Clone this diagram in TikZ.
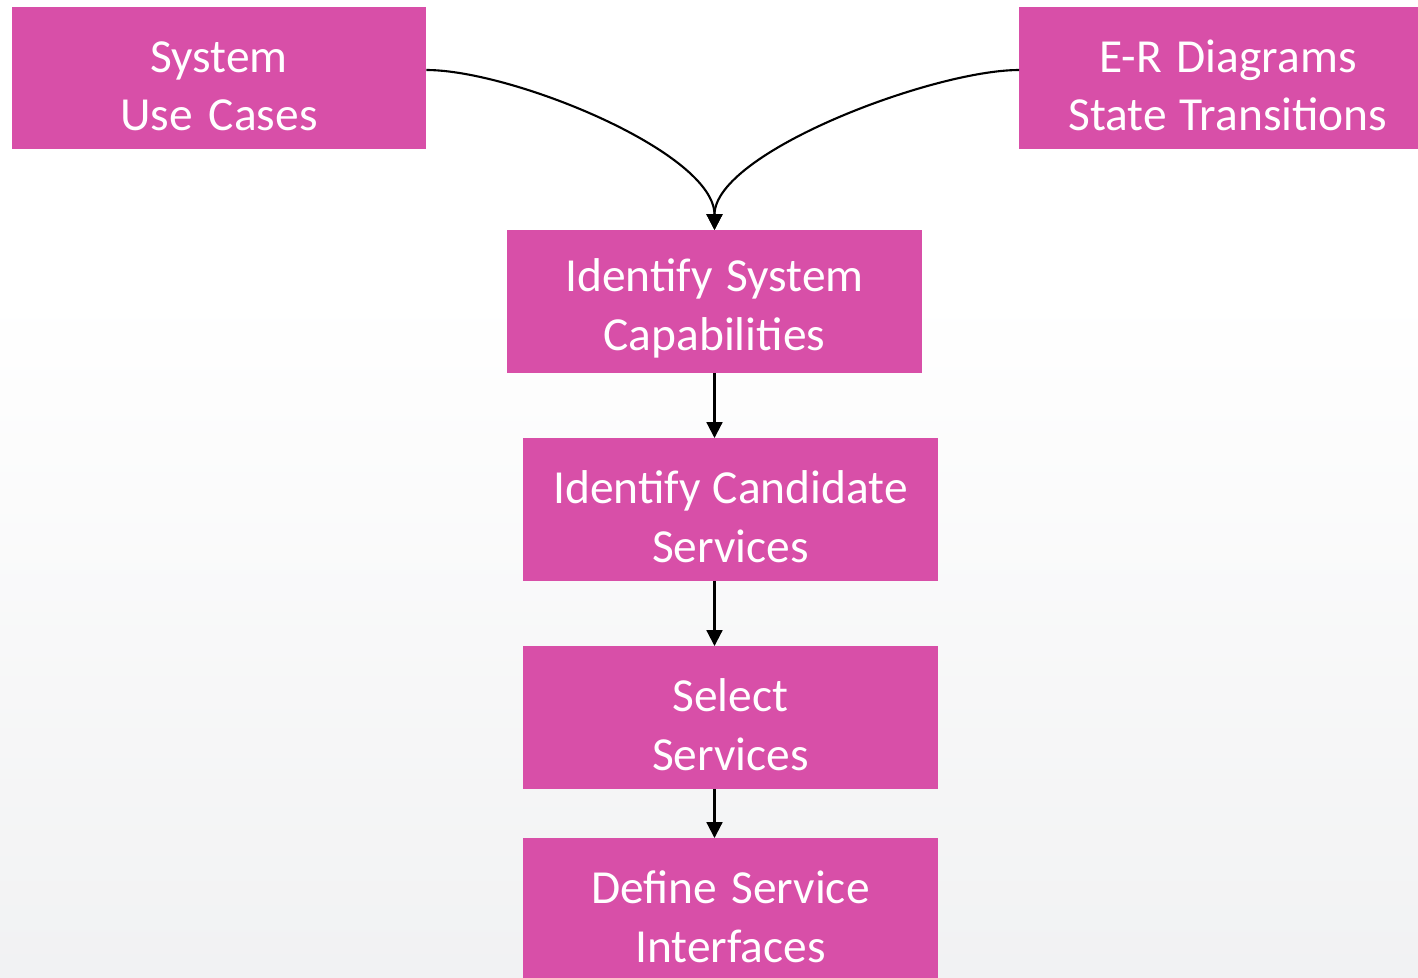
\documentclass[tikz,border=0pt]{standalone}
\usepackage{fontspec}
\setmainfont{Carlito}
\usetikzlibrary{arrows.meta}
\definecolor{stepmagenta}{RGB}{216,79,168}
\definecolor{bgtop}{RGB}{236,236,236}
\definecolor{bgbottom}{RGB}{231,232,234}
\pgfdeclareverticalshading{bgfade}{100bp}{color(0bp)=(bgbottom); color(60bp)=(white); color(80bp)=(white); color(100bp)=(bgtop)}
\begin{document}
\begin{tikzpicture}[x=0.02cm,y=-0.02cm,
		stepbox/.style={fill=stepmagenta, text=white, inner sep=0pt, outer sep=0pt,
			minimum width=8.3cm, minimum height=2.86cm, text width=8cm, align=center,
			font=\fontsize{27}{33.5}\selectfont,
			execute at begin node={\noindent\rule{0pt}{27pt}\spaceskip=0.23em plus 0.1em\relax}},
		flow/.style={line width=1.2pt, -{Triangle[width=9pt,length=9pt]}},
		merge/.style={flow, out distance=1.72cm, in distance=1.55cm}]
		\useasboundingbox (0,0) rectangle (1418,978);
		\clip (0,0) rectangle (1418,978);
		\shade[shading=bgfade] (0,0) rectangle (1418,978);
		\node[stepbox] (sysuse) at (219,78) {System\\Use Cases};
		\node[stepbox, minimum width=8.36cm] (erstate) at (1228,78) {E-R Diagrams\\State Transitions};
		\node[stepbox] (capab) at (714.5,301.5) {Identify System\\Capabilities};
		\node[stepbox] (candid) at (730.5,509.5) {Identify Candidate\\Services};
		\node[stepbox] (select) at (730.5,717.5) {Select\\Services};
		\node[stepbox] (define) at (730.5,909.5) {Define Service\\Interfaces};
		\draw[merge] ([yshift=0.16cm]sysuse.east) to[out=0,in=90] (capab.north);
		\draw[merge] ([yshift=0.16cm]erstate.west) to[out=180,in=90] (capab.north);
		\draw[flow] (capab.south) -- (capab.south |- candid.north);
		\draw[flow] (candid.south -| capab) -- (select.north -| capab);
		\draw[flow] (select.south -| capab) -- (define.north -| capab);
\end{tikzpicture}
\end{document}
